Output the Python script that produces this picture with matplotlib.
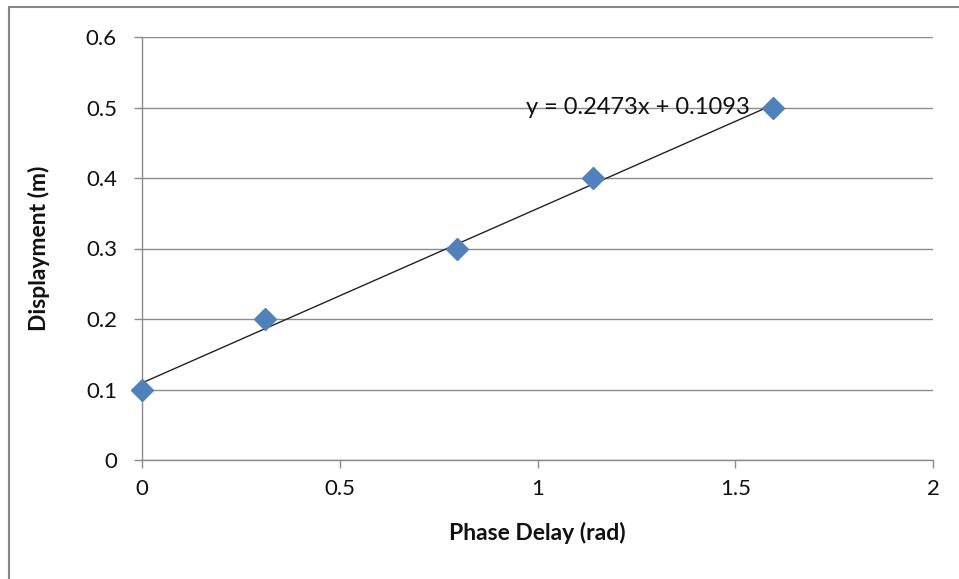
import matplotlib.pyplot as plt
from matplotlib.patches import Rectangle
import numpy as np

# data
phase_delay = [0.0, 0.311, 0.796, 1.14, 1.595]
displacement = [0.1, 0.2, 0.3, 0.4, 0.5]
slope = 0.2473
intercept = 0.1093
eq_label = "y = 0.2473x + 0.1093"
x_ticks = [0, 0.5, 1, 1.5, 2]
y_ticks = [0, 0.1, 0.2, 0.3, 0.4, 0.5, 0.6]

plt.rcParams['font.family'] = ['Lato', 'DejaVu Sans']

fig = plt.figure(figsize=(9.59, 5.79), dpi=100)
ax = fig.add_axes([142 / 959, 1 - 460 / 579, 791 / 959, 423 / 579])

# outer chart border
fig.patches.append(Rectangle((9 / 959, -0.05), 1.0, 1 - 7 / 579 + 0.05,
                             transform=fig.transFigure, fill=False,
                             edgecolor='#868686', linewidth=1.5))

ax.set_xlim(0, 2)
ax.set_ylim(0, 0.6)
ax.set_xticks(x_ticks)
ax.set_yticks(y_ticks)
ax.set_xticklabels(['0', '0.5', '1', '1.5', '2'])
ax.set_yticklabels(['0', '0.1', '0.2', '0.3', '0.4', '0.5', '0.6'])
ax.yaxis.grid(True, color='#8c8c8c', linewidth=1)
ax.set_axisbelow(True)

for s in ['top', 'right']:
    ax.spines[s].set_visible(False)
for s in ['left', 'bottom']:
    ax.spines[s].set_color('#8c8c8c')
    ax.spines[s].set_linewidth(1)
ax.tick_params(axis='both', colors='#8c8c8c', length=6, width=1, labelsize=16,
               labelcolor='#111111')
ax.tick_params(axis='x', pad=8)
ax.tick_params(axis='y', pad=12)

# linear trendline
xs = np.array([phase_delay[0], phase_delay[-1]])
ax.plot(xs, slope * xs + intercept, color='#222222', linewidth=1, zorder=3)
ax.plot(phase_delay, displacement, linestyle='none', marker='D', markersize=11,
        color='#4F81BD', markeredgecolor='#4F81BD', zorder=4, clip_on=False)

ax.text(1.255, 0.5, eq_label, fontsize=17, ha='center', va='center', color='#111111')

ax.set_xlabel('Phase Delay (rad)', fontsize=16.5, fontweight='bold', labelpad=16,
              color='#111111')
ax.set_ylabel('Displayment (m)', fontsize=16.5, fontweight='bold', labelpad=26,
              color='#111111')

fig.savefig('out.png', dpi=100)
